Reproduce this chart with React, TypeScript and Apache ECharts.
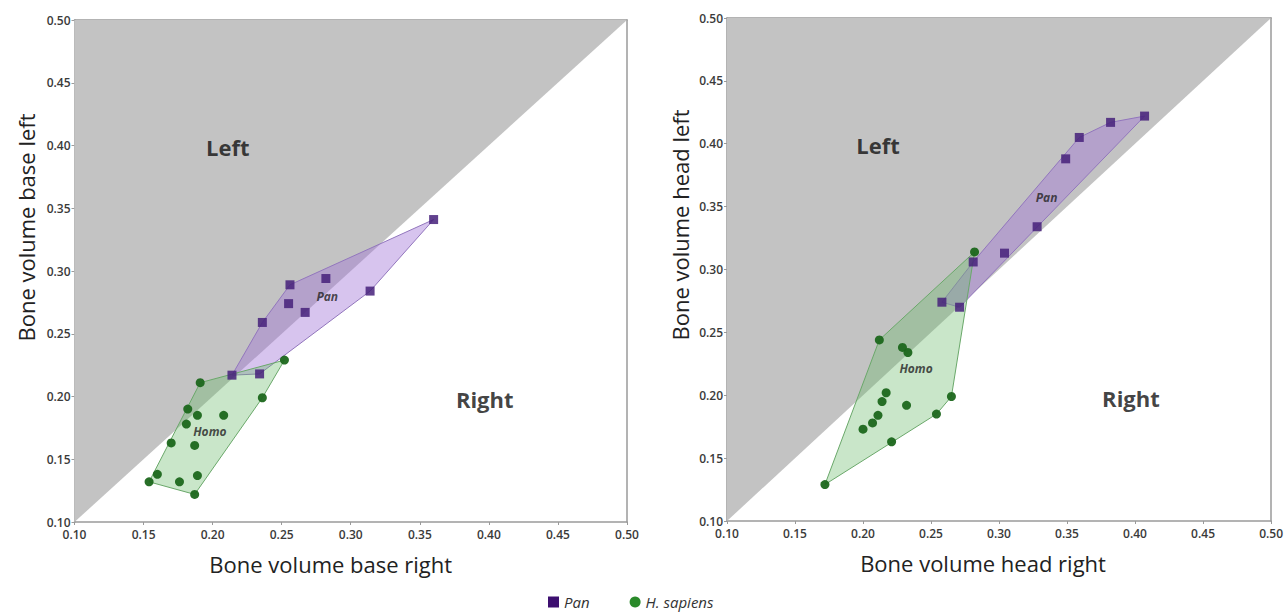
import React, { useEffect, useRef } from 'react';
import * as echarts from 'echarts';

const axisMin = 0.1;
const axisMax = 0.5;
const axisStep = 0.05;

// region above the diagonal (left side larger)
const leftRegion: number[][] = [[0.1, 0.1], [0.5, 0.5], [0.1, 0.5]];

// Bone volume base (right, left)
const panBase: number[][] = [
  [0.360, 0.341], [0.282, 0.294], [0.256, 0.289], [0.314, 0.284], [0.255, 0.274],
  [0.267, 0.267], [0.236, 0.259], [0.214, 0.217], [0.234, 0.218],
];
const homoBase: number[][] = [
  [0.252, 0.229], [0.191, 0.211], [0.236, 0.199], [0.182, 0.190], [0.189, 0.185],
  [0.208, 0.185], [0.181, 0.178], [0.170, 0.163], [0.187, 0.161], [0.160, 0.138],
  [0.154, 0.132], [0.176, 0.132], [0.189, 0.137], [0.187, 0.122],
];
// Bone volume head (right, left)
const panHead: number[][] = [
  [0.407, 0.422], [0.382, 0.417], [0.359, 0.405], [0.349, 0.388], [0.328, 0.334],
  [0.304, 0.313], [0.281, 0.306], [0.258, 0.274], [0.271, 0.270],
];
const homoHead: number[][] = [
  [0.282, 0.314], [0.212, 0.244], [0.229, 0.238], [0.233, 0.234], [0.217, 0.202],
  [0.214, 0.195], [0.232, 0.192], [0.265, 0.199], [0.254, 0.185], [0.211, 0.184],
  [0.207, 0.178], [0.200, 0.173], [0.221, 0.163], [0.172, 0.129],
];

const regionLabels: [number, number, string][] = [[0.211, 0.399, 'Left'], [0.397, 0.198, 'Right']];
const groupLabelsBase: [number, number, string][] = [[0.283, 0.280, 'Pan'], [0.198, 0.1725, 'Homo']];
const groupLabelsHead: [number, number, string][] = [[0.335, 0.357, 'Pan'], [0.239, 0.221, 'Homo']];

const xNames = ['Bone volume base right', 'Bone volume head right'];
const yNames = ['Bone volume base left', 'Bone volume head left'];

function convexHull(pts: number[][]): number[][] {
  const p = pts.slice().sort((a, b) => a[0] - b[0] || a[1] - b[1]);
  const cross = (o: number[], a: number[], b: number[]) =>
    (a[0] - o[0]) * (b[1] - o[1]) - (a[1] - o[1]) * (b[0] - o[0]);
  const lower: number[][] = [];
  for (const q of p) {
    while (lower.length >= 2 && cross(lower[lower.length - 2], lower[lower.length - 1], q) <= 0) lower.pop();
    lower.push(q);
  }
  const upper: number[][] = [];
  for (let i = p.length - 1; i >= 0; i--) {
    const q = p[i];
    while (upper.length >= 2 && cross(upper[upper.length - 2], upper[upper.length - 1], q) <= 0) upper.pop();
    upper.push(q);
  }
  upper.pop();
  lower.pop();
  return lower.concat(upper);
}

const FONT = 'Open Sans';
const PAN_COLOR = '#45207a';
const HOMO_COLOR = '#1c671c';

export default function App() {
  const ref = useRef<HTMLDivElement>(null);
  useEffect(() => {
    if (!ref.current) return;
    const chart = echarts.init(ref.current, undefined, { renderer: 'svg' });

    const grids = [
      { left: 74.5, top: 20, width: 552.5, height: 502 },
      { left: 727, top: 18, width: 550, height: 503 },
    ];
    const xPad = [[0, 40, 0, 0], [0, 32, 0, 0]];
    const yPad = [[0, 0, 0, 87], [0, 0, 0, 89]];
    const yGap = [38, 36];

    const xAxes: any[] = [];
    const yAxes: any[] = [];
    grids.forEach((_, g) => {
      xAxes.push({
        type: 'value', gridIndex: g, min: axisMin, max: axisMax, interval: axisStep,
        name: xNames[g], nameLocation: 'middle', nameGap: 31,
        nameTextStyle: { fontFamily: FONT, fontSize: 22, color: '#222', padding: xPad[g] },
        axisLine: { show: true, lineStyle: { color: '#9a9a9a', width: 1.5 } },
        axisTick: { show: true, length: 3, lineStyle: { color: '#9a9a9a' } },
        axisLabel: { fontFamily: FONT, fontSize: 12, fontWeight: 600, color: '#3a3a3a', margin: 6,
          lineHeight: 12, formatter: (v: number) => v.toFixed(2) },
        splitLine: { show: false },
      });
      xAxes.push({
        type: 'value', gridIndex: g, min: axisMin, max: axisMax, position: 'top',
        axisLine: { show: true, lineStyle: { color: '#9a9a9a', width: 1.5 } },
        axisTick: { show: false }, axisLabel: { show: false }, splitLine: { show: false },
      });
      yAxes.push({
        type: 'value', gridIndex: g, min: axisMin, max: axisMax, interval: axisStep,
        name: yNames[g], nameLocation: 'middle', nameGap: yGap[g], nameRotate: 90,
        nameTextStyle: { fontFamily: FONT, fontSize: 22, color: '#222', padding: yPad[g] },
        axisLine: { show: true, lineStyle: { color: '#9a9a9a', width: 1.5 } },
        axisTick: { show: true, length: 3, lineStyle: { color: '#9a9a9a' } },
        axisLabel: { fontFamily: FONT, fontSize: 12, fontWeight: 600, color: '#3a3a3a', margin: 4,
          lineHeight: 12, formatter: (v: number) => v.toFixed(2) },
        splitLine: { show: false },
      });
      yAxes.push({
        type: 'value', gridIndex: g, min: axisMin, max: axisMax, position: 'right',
        axisLine: { show: true, lineStyle: { color: '#9a9a9a', width: 1.5 } },
        axisTick: { show: false }, axisLabel: { show: false }, splitLine: { show: false },
      });
    });

    const polySeries = (g: number, pts: number[][], fill: string, stroke: string, lw: number, z: number) => ({
      type: 'custom', xAxisIndex: g * 2, yAxisIndex: g * 2, silent: true, z,
      data: [[axisMin, axisMin]],
      renderItem: (_p: any, api: any) => ({
        type: 'polygon',
        shape: { points: pts.map((pt) => api.coord(pt)) },
        style: { fill, stroke, lineWidth: lw },
      }),
    });

    const textSeries = (g: number, items: [number, number, string][], style: any) => ({
      type: 'scatter', xAxisIndex: g * 2, yAxisIndex: g * 2, silent: true, z: 6,
      symbolSize: 1, itemStyle: { color: 'rgba(0,0,0,0)' },
      data: items.map(([x, y, t]) => ({ value: [x, y], name: t })),
      label: { show: true, position: 'inside', formatter: '{b}', fontFamily: FONT, ...style },
    });

    const series: any[] = [];
    const sets = [
      { pan: panBase, homo: homoBase, groupLabels: groupLabelsBase },
      { pan: panHead, homo: homoHead, groupLabels: groupLabelsHead },
    ];
    sets.forEach((s, g) => {
      series.push(polySeries(g, leftRegion, '#c3c3c3', 'none', 0, 1));
      series.push(polySeries(g, convexHull(s.pan), 'rgba(160,115,215,0.42)', '#9276bd', 1, 2));
      series.push(polySeries(g, convexHull(s.homo), 'rgba(105,185,105,0.36)', '#6aa86a', 1, 3));
      series.push({
        type: 'scatter', name: 'Pan', xAxisIndex: g * 2, yAxisIndex: g * 2, z: 4,
        symbol: 'rect', symbolSize: 9, itemStyle: { color: PAN_COLOR, opacity: 0.85 },
        data: s.pan,
      });
      series.push({
        type: 'scatter', name: 'H. sapiens', xAxisIndex: g * 2, yAxisIndex: g * 2, z: 5,
        symbol: 'circle', symbolSize: 9, itemStyle: { color: HOMO_COLOR, opacity: 0.95 },
        data: s.homo,
      });
      series.push(textSeries(g, regionLabels, { fontSize: 22, fontWeight: 'bold', color: '#111' }));
      series.push(textSeries(g, s.groupLabels, { fontSize: 12, fontWeight: 'bold', fontStyle: 'italic', color: '#222' }));
    });

    chart.setOption({
      animation: false,
      backgroundColor: '#ffffff',
      grid: grids,
      xAxis: xAxes,
      yAxis: yAxes,
      legend: {
        left: 548, top: 593, itemGap: 40, itemWidth: 11, itemHeight: 11, padding: 0,
        textStyle: { fontFamily: FONT, fontSize: 15, fontStyle: 'italic', color: '#333', lineHeight: 18 },
        data: [
          { name: 'Pan', icon: 'rect', itemStyle: { color: '#3d0f70', opacity: 1 } },
          { name: 'H. sapiens', icon: 'circle', itemStyle: { color: '#2a8a2a', opacity: 1 } },
        ],
        selectedMode: false,
      },
      series,
    });
    return () => chart.dispose();
  }, []);

  return (
    <div
      ref={ref}
      style={{ position: 'absolute', left: 0, top: 0, width: 1286, height: 613, background: '#fff' }}
    />
  );
}
